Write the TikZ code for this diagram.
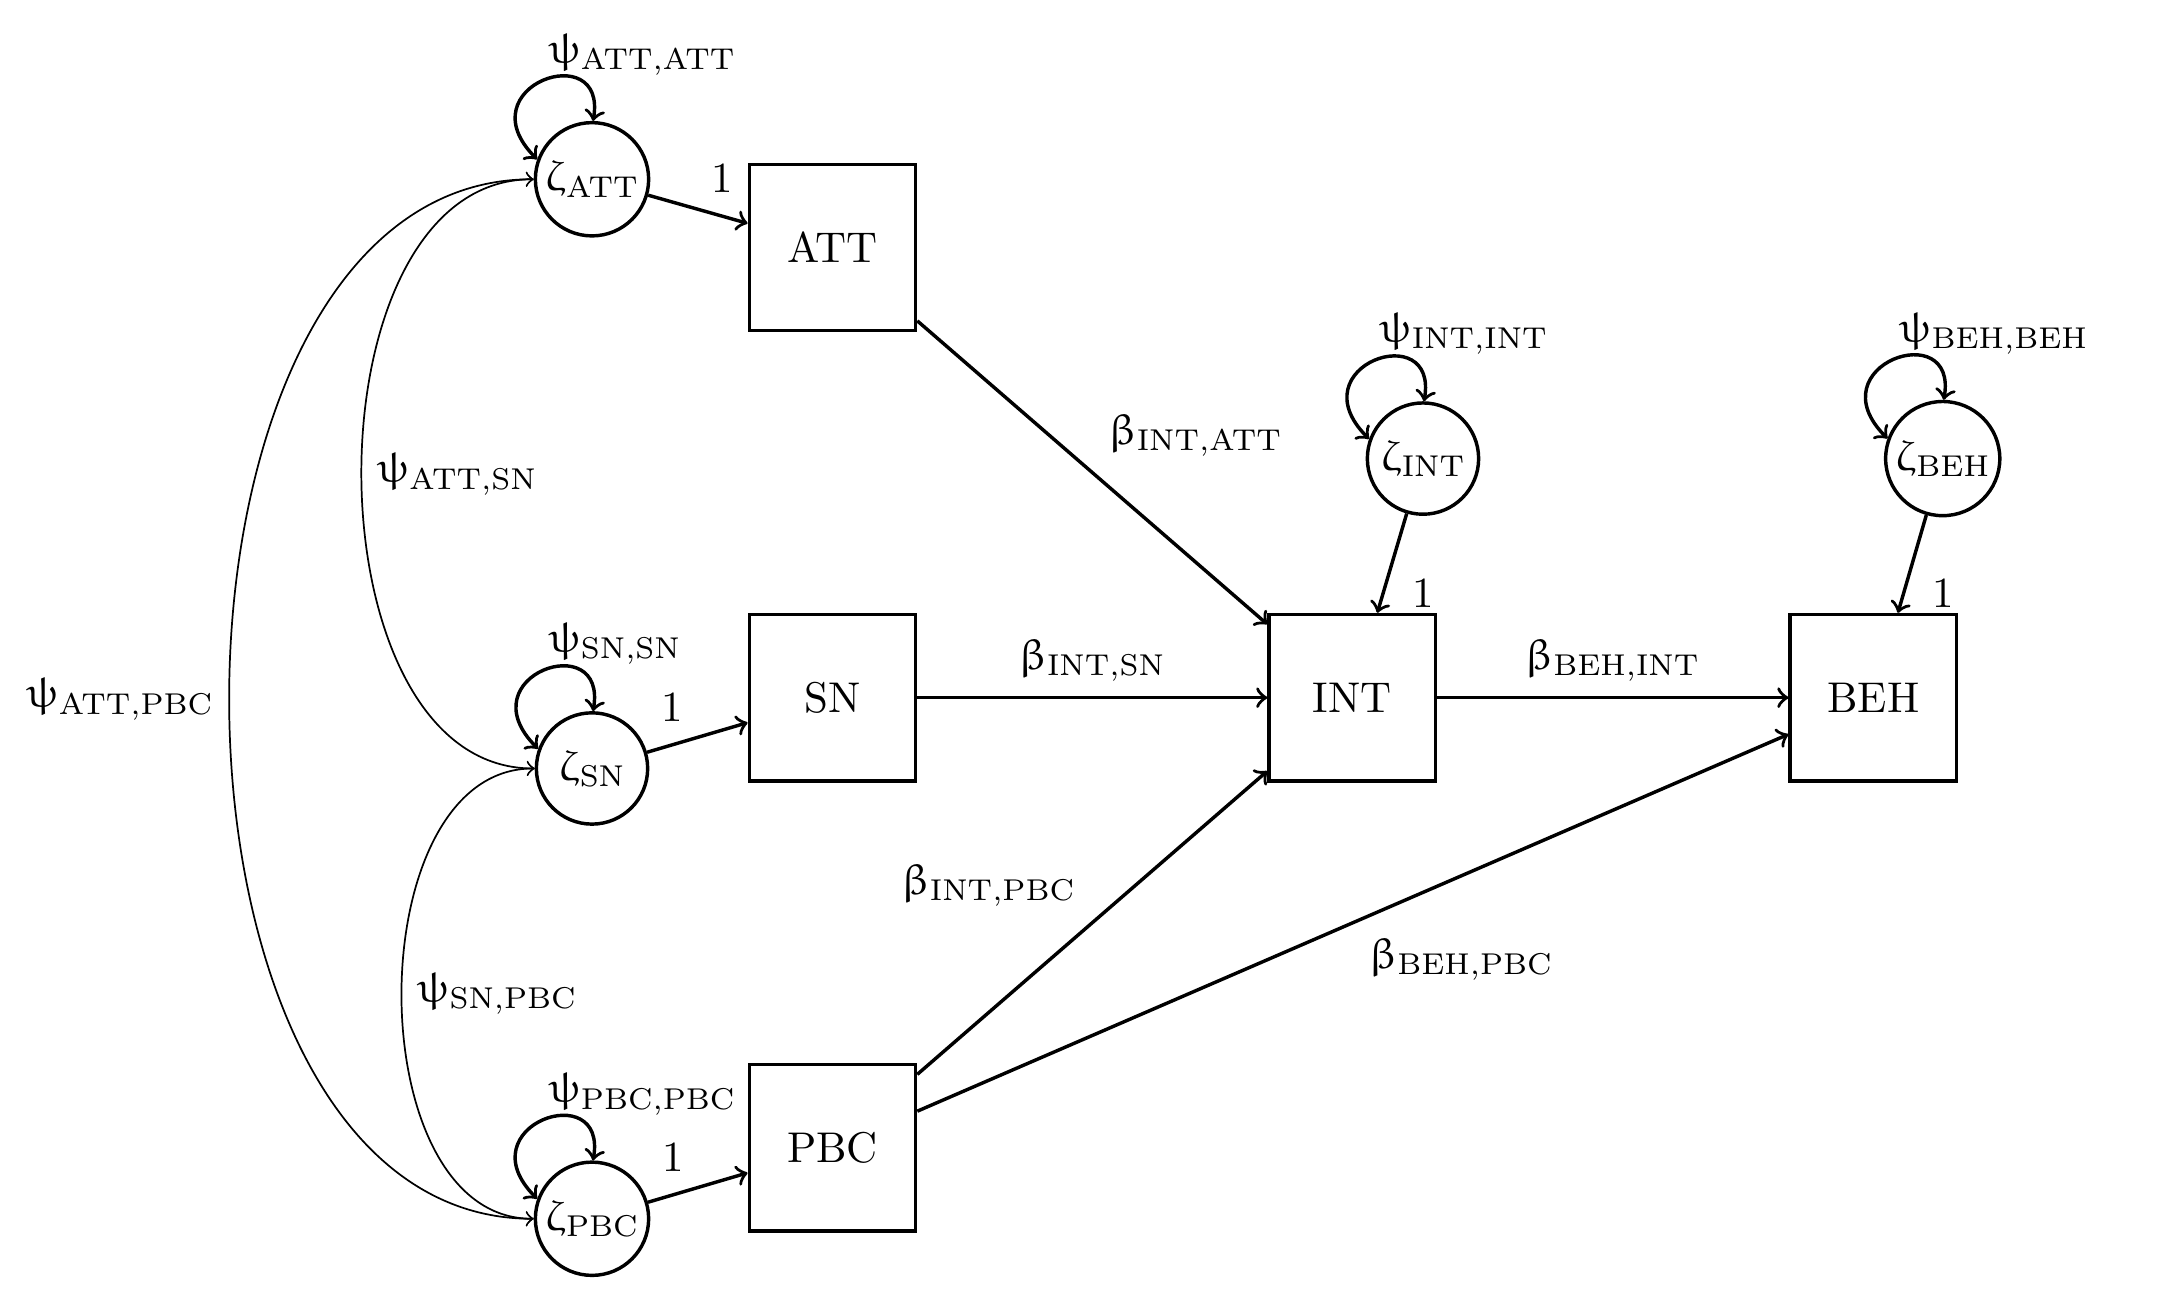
\documentclass[tikz,border=0pt]{standalone}
\usepackage{upgreek}
\usetikzlibrary{arrows}

\begin{document}
\begin{tikzpicture}[
 obs/.style={draw,thick,rectangle,minimum size=1.36cm},
 err/.style={draw,thick,circle,inner sep=1pt,minimum size=0.91cm},
 regr/.style={->,thick},
 cov/.style={<->,thin},
 selfloop/.style={<->,thick,out=135,in=80,out distance=0.85cm,in distance=0.7cm}]

\useasboundingbox (0,0) rectangle (17.818,-10.545);

% observed variables
\node[obs] (ATT) at (6.807,-2.023) {ATT};
\node[obs] (SN)  at (6.807,-5.705) {SN};
\node[obs] (PBC) at (6.807,-9.386) {PBC};
\node[obs] (INT) at (11.057,-5.705) {INT};
\node[obs] (BEH) at (15.318,-5.705) {BEH};

% disturbances
\node[err] (zATT) at (4.841,-1.466) {$\upzeta_{\mathrm{ATT}}$};
\node[err] (zSN)  at (4.841,-6.284) {$\upzeta_{\mathrm{SN}}$};
\node[err] (zPBC) at (4.841,-9.966) {$\upzeta_{\mathrm{PBC}}$};
\node[err] (zINT) at (11.636,-3.75) {$\upzeta_{\mathrm{INT}}$};
\node[err] (zBEH) at (15.886,-3.75) {$\upzeta_{\mathrm{BEH}}$};

% variances
\draw[selfloop] (zATT.160) to (zATT.89);
\draw[selfloop] (zSN.160) to (zSN.89);
\draw[selfloop] (zPBC.160) to (zPBC.89);
\draw[selfloop] (zINT.160) to (zINT.89);
\draw[selfloop] (zBEH.160) to (zBEH.89);
\node[anchor=base west] (vATT) at ([shift={(-0.48,0.95)}]zATT) {$\uppsi_{\mathrm{ATT,ATT}}$};
\node[anchor=base west] (vSN)  at ([shift={(-0.48,0.95)}]zSN)  {$\uppsi_{\mathrm{SN,SN}}$};
\node[anchor=base west] (vPBC) at ([shift={(-0.48,0.95)}]zPBC) {$\uppsi_{\mathrm{PBC,PBC}}$};
\node[anchor=base west] (vINT) at ([shift={(-0.48,0.95)}]zINT) {$\uppsi_{\mathrm{INT,INT}}$};
\node[anchor=base west] (vBEH) at ([shift={(-0.48,0.95)}]zBEH) {$\uppsi_{\mathrm{BEH,BEH}}$};

% covariances
\draw[cov] (zATT.west) to[out=180,in=180] node[right] {$\uppsi_{\mathrm{ATT,SN}}$} (zSN.west);
\draw[cov] (zSN.west) to[out=180,in=180] node[right] {$\uppsi_{\mathrm{SN,PBC}}$} (zPBC.west);
\draw[cov] (zATT.west) to[out=180,in=180] node[left] {$\uppsi_{\mathrm{ATT,PBC}}$} (zPBC.west);

% disturbance paths
\draw[regr] (zATT) -- node[near end,above=1.7pt] {1} (ATT);
\draw[regr] (zSN) -- node[near start,above=1.7pt] {1} (SN);
\draw[regr] (zPBC) -- node[near start,above=1.7pt] {1} (PBC);
\draw[regr] (zINT) -- node[pos=0.8,right=3pt] {1} (INT);
\draw[regr] (zBEH) -- node[pos=0.8,right=3pt] {1} (BEH);

% structural paths
\draw[regr] (ATT) -- node[above right] {$\upbeta_{\mathrm{INT,ATT}}$} (INT);
\draw[regr] (SN) -- node[above] {$\upbeta_{\mathrm{INT,SN}}$} (INT);
\draw[regr] (PBC) -- node[above left] {$\upbeta_{\mathrm{INT,PBC}}$} (INT);
\draw[regr] (INT) -- node[above] {$\upbeta_{\mathrm{BEH,INT}}$} (BEH);
\draw[regr] (PBC) -- node[below right] {$\upbeta_{\mathrm{BEH,PBC}}$} (BEH);
\end{tikzpicture}
\end{document}
